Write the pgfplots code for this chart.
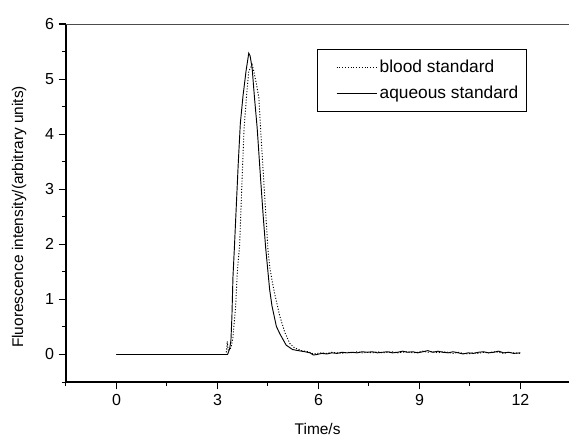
\documentclass[border=0pt]{standalone}
\usepackage{fontspec}
\setmainfont{Liberation Sans}
\usepackage{pgfplots}
\pgfplotsset{compat=1.18}

\begin{document}
\begin{tikzpicture}
\begin{axis}[
    name=ax,
    scale only axis,
    width=377.7pt, height=268.7pt,
    xmin=-1.5, xmax=13.45,
    ymin=-0.5, ymax=6,
    axis x line*=bottom,
    axis y line*=left,
    x axis line style={line width=1.1pt},
    y axis line style={line width=1.4pt},
    clip=false,
    xtick={0,3,6,9,12},
    minor xtick={-1.5,1.5,4.5,7.5,10.5},
    ytick={0,1,2,3,4,5,6},
    minor ytick={-0.5,0.5,1.5,2.5,3.5,4.5,5.5},
    tick align=outside,
    major tick length=5.5pt,
    minor tick length=3pt,
    every tick/.style={black, line width=0.8pt},
    /pgf/number format/assume math mode=true,
    tick label style={font=\fontsize{12}{14}\selectfont},
    xlabel={Time/s},
    ylabel={Fluorescence intensity/(arbitrary units)},
    label style={font=\fontsize{11.6}{13}\selectfont},
    xlabel style={at={(axis description cs:0.5,-0.131)}, anchor=center},
    ylabel style={at={(axis description cs:-0.093,0.461)}, anchor=center},
    legend style={
        at={(axis description cs:0.4985,0.93)}, anchor=north west,
        draw=black, line width=0.9pt,
        font=\fontsize{13}{15}\selectfont,
        inner xsep=4pt, inner ysep=6pt,
        row sep=4.5pt,
        cells={anchor=west, inner xsep=1pt, text height=9.5pt, text depth=2.5pt},
    },
    legend image code/.code={\path (0pt,0pt); \draw[#1] (10pt,0pt) -- (40pt,0pt);},
]
% blood standard (dotted)
\addplot[black, line width=0.7pt, dash pattern=on 0.8pt off 1.3pt] coordinates {
    (0,0)(1,0)(2,0)(3,0)(3.26,0)(3.29,0.24)(3.32,0.08)(3.38,0.10)(3.41,0.15)
    (3.46,0.30)(3.54,0.88)(3.59,1.49)(3.66,2.00)(3.72,3.00)(3.79,4.10)
    (3.86,4.66)(3.93,5.14)(4.03,5.26)(4.08,5.14)(4.16,4.90)(4.23,4.66)
    (4.28,4.11)(4.40,2.90)(4.50,1.91)(4.55,1.60)(4.62,1.35)(4.70,1.10)
    (4.85,0.70)(5.00,0.40)(5.15,0.20)(5.29,0.12)(5.50,0.07)(5.70,0.05)
    (5.85,0.01)(5.95,0.02)(6.10,0.03)(6.25,0.02)(6.40,0.04)(6.55,0.03)
    (6.70,0.02)(6.85,0.04)(7.00,0.03)(7.15,0.05)(7.30,0.03)(7.45,0.04)
    (7.60,0.03)(7.75,0.05)(7.90,0.03)(8.05,0.04)(8.20,0.05)(8.35,0.03)
    (8.50,0.04)(8.65,0.05)(8.80,0.03)(8.95,0.04)(9.10,0.06)(9.25,0.04)
    (9.40,0.05)(9.55,0.03)(9.70,0.05)(9.85,0.04)(10.00,0.02)(10.15,0.04)
    (10.30,0.02)(10.45,0.01)(10.60,0.03)(10.75,0.02)(10.90,0.04)(11.05,0.03)
    (11.20,0.05)(11.35,0.04)(11.50,0.02)(11.65,0.04)(11.80,0.03)(12.00,0.02)
};
\addlegendentry{blood standard}
% aqueous standard (solid)
\addplot[black, line width=0.7pt] coordinates {
    (0,0)(1,0)(2,0)(3,0)(3.30,0)(3.36,0.10)(3.40,0.25)(3.43,0.70)(3.46,1.40)
    (3.50,1.90)(3.56,2.70)(3.62,3.50)(3.68,4.20)(3.76,4.70)(3.85,5.15)
    (3.93,5.47)(3.97,5.42)(4.03,5.20)(4.10,4.66)(4.18,4.11)(4.28,3.20)
    (4.36,2.50)(4.43,1.95)(4.55,1.18)(4.62,0.88)(4.75,0.51)(4.85,0.38)
    (5.04,0.17)(5.23,0.09)(5.40,0.07)(5.60,0.05)(5.75,0.03)(5.85,-0.01)
    (5.95,0.00)(6.10,0.02)(6.25,0.01)(6.40,0.03)(6.55,0.02)(6.70,0.04)
    (6.85,0.03)(7.00,0.04)(7.15,0.03)(7.30,0.05)(7.45,0.04)(7.60,0.05)
    (7.75,0.03)(7.90,0.04)(8.05,0.05)(8.20,0.03)(8.35,0.04)(8.50,0.06)
    (8.65,0.04)(8.80,0.05)(8.95,0.03)(9.10,0.05)(9.25,0.07)(9.40,0.04)
    (9.55,0.06)(9.70,0.04)(9.85,0.03)(10.00,0.05)(10.15,0.03)(10.30,0.01)
    (10.45,0.03)(10.60,0.02)(10.75,0.04)(10.90,0.05)(11.05,0.03)(11.20,0.04)
    (11.35,0.06)(11.50,0.03)(11.65,0.04)(11.80,0.02)(12.00,0.03)
};
\addlegendentry{aqueous standard}
\draw[black!70, line width=0.6pt] (rel axis cs:0,1) -- (rel axis cs:1,1);
\end{axis}
\useasboundingbox ([xshift=-49.5pt,yshift=-40.5pt]ax.south west) rectangle ([yshift=18pt]ax.north east);
\end{tikzpicture}
\end{document}
